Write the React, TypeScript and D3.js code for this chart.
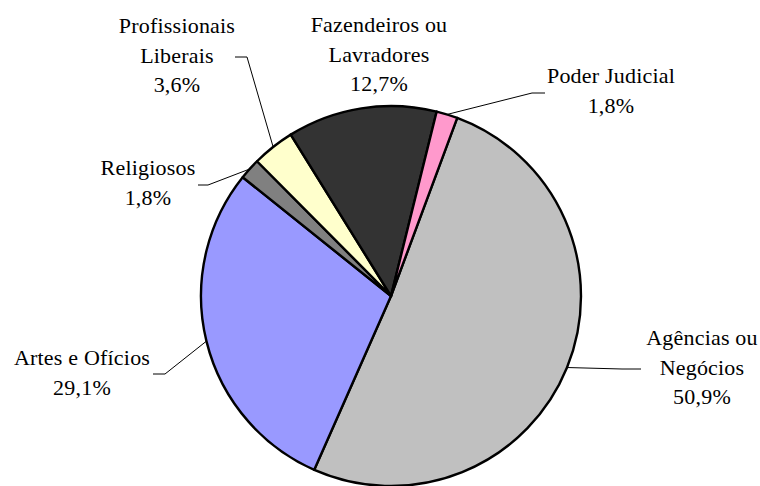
import React from "react";
import * as d3 from "d3";

// slice order, clockwise from the first slice
const categories = [
  "Agências ou Negócios",
  "Artes e Ofícios",
  "Religiosos",
  "Profissionais Liberais",
  "Fazendeiros ou Lavradores",
  "Poder Judicial",
];
const shares = [50.9, 29.1, 1.8, 3.6, 12.7, 1.8];
const valueLabels = ["50,9%", "29,1%", "1,8%", "3,6%", "12,7%", "1,8%"];
const labelLines = [
  ["Agências ou", "Negócios"],
  ["Artes e Ofícios"],
  ["Religiosos"],
  ["Profissionais", "Liberais"],
  ["Fazendeiros ou", "Lavradores"],
  ["Poder Judicial"],
];
const colors = ["#C0C0C0", "#9999FF", "#808080", "#FFFFCC", "#333333", "#FF99CC"];

const width = 760;
const height = 486;
const cx = 391;
const cy = 296;
const radius = 190;
const firstAngle = (20.4 * Math.PI) / 180;
const lineGap = 29.6;
const font = "Liberation Serif";

// label placement: text centre x, first baseline y, leader end + elbow (null = no leader)
const labelLayout = [
  { x: 702, y: 345, leader: [[641, 369], [622, 369]] },
  { x: 82, y: 365, leader: [[153, 374], [165, 374]] },
  { x: 148, y: 175, leader: [[198, 185], [208, 185]] },
  { x: 177, y: 33, leader: [[235, 57], [247, 57]] },
  { x: 379, y: 32, leader: null },
  { x: 611, y: 83, leader: [[545, 93], [532, 93]] },
];

export default function App() {
  const data = categories.map((name, i) => ({ name, value: shares[i], i }));

  const pie = d3
    .pie<any>()
    .sort(null)
    .value((d) => d.value)
    .startAngle(firstAngle)
    .endAngle(firstAngle + 2 * Math.PI);
  const arcs = pie(data);

  const arc = d3.arc<any>().innerRadius(0).outerRadius(radius);
  const edge = d3.arc<any>().innerRadius(radius).outerRadius(radius);

  return (
    <svg
      width={width}
      height={height}
      style={{ position: "absolute", left: 0, top: 0, background: "#fff" }}
    >
      <g transform={`translate(${cx}, ${cy})`}>
        {arcs.map((a, i) => (
          <path
            key={i}
            d={arc(a) as string}
            fill={colors[i]}
            stroke="#000"
            strokeWidth={2.4}
            strokeLinejoin="round"
          />
        ))}
      </g>

      {arcs.map((a, i) => {
        const lay = labelLayout[i];
        if (!lay.leader) return null;
        const [ex, ey] = edge.centroid(a);
        const pts = [[cx + ex, cy + ey], lay.leader[1], lay.leader[0]];
        return (
          <path
            key={`l${i}`}
            d={d3.line()(pts as [number, number][]) as string}
            fill="none"
            stroke="#000"
            strokeWidth={1}
          />
        );
      })}

      {labelLines.map((lines, i) => {
        const lay = labelLayout[i];
        const all = [...lines, valueLabels[i]];
        return (
          <text
            key={`t${i}`}
            x={lay.x}
            y={lay.y}
            textAnchor="middle"
            style={{ fontFamily: font, fontSize: 22, letterSpacing: 0.2 }}
            fill="#000"
          >
            {all.map((s, j) => (
              <tspan key={j} x={lay.x} y={lay.y + j * lineGap}>
                {s}
              </tspan>
            ))}
          </text>
        );
      })}
    </svg>
  );
}
